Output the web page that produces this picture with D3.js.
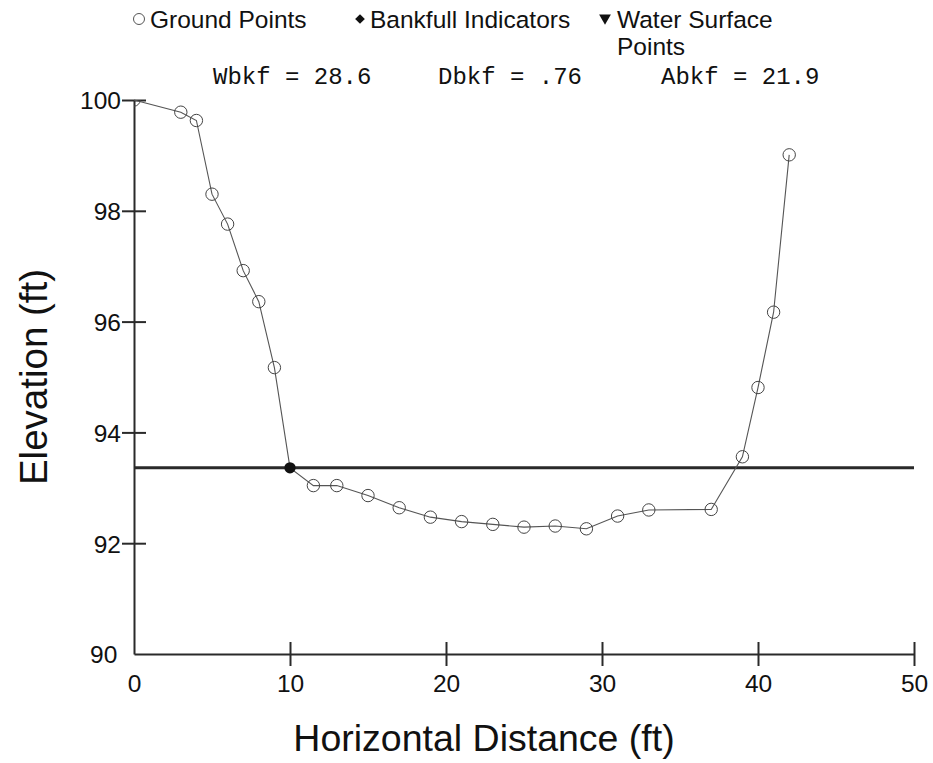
<!DOCTYPE html>
<html>
<head>
<meta charset="utf-8">
<script src="https://cdn.jsdelivr.net/npm/d3@7/dist/d3.min.js"></script>
<style>
  html, body { margin: 0; padding: 0; background: #fff; }
  svg { display: block; }
  text { font-family: "Liberation Sans", Arial, sans-serif; fill: #111; }
  .mono { font-family: "Liberation Mono", "Courier New", monospace; }
</style>
</head>
<body>
<svg id="chart" width="933" height="763"></svg>
<script>
// Cross-section survey: horizontal station (ft) and ground elevation (ft)
const stations   = [0, 3, 4, 5, 6, 7, 8, 9, 10, 11.5, 13, 15, 17, 19, 21, 23, 25, 27, 29, 31, 33, 37, 39, 40, 41, 42];
const elevations = [100, 99.78, 99.63, 98.30, 97.76, 96.92, 96.36, 95.17, 93.36, 93.04, 93.04, 92.86, 92.64, 92.47, 92.39, 92.34, 92.29, 92.31, 92.26, 92.49, 92.60, 92.61, 93.56, 94.81, 96.17, 99.01];

// Bankfull indicator and stage
const bankfullStation = [10];
const bankfullElevation = 93.36;

// Summary statistics
const statLabels = ["Wbkf = 28.6", "Dbkf = .76", "Abkf = 21.9"];

// Axis ticks
const xTicks = [0, 10, 20, 30, 40, 50];
const yTicks = [90, 92, 94, 96, 98, 100];

const svg = d3.select("#chart");
const margin = { left: 134, right: 19, top: 100, bottom: 109 };
const W = 933, H = 763;

const x = d3.scaleLinear().domain([0, 50]).range([margin.left, W - margin.right]);
const y = d3.scaleLinear().domain([90, 100]).range([H - margin.bottom, margin.top]);

const axisColor = "#2a2a2a";
const labelSize = 24.5;

// Plot-area clip for the markers
svg.append("defs").append("clipPath").attr("id", "plot-clip")
  .append("rect")
  .attr("x", x(0)).attr("y", y(100))
  .attr("width", x(50) - x(0)).attr("height", y(90) - y(100));

// X axis with ticks crossing the line
const xAxis = svg.append("g")
  .attr("transform", `translate(0,${y(90)})`)
  .call(d3.axisBottom(x).tickValues(xTicks).tickSize(0).tickPadding(21).tickFormat(d3.format("d")));
xAxis.select(".domain").attr("stroke", axisColor).attr("stroke-width", 2);
xAxis.selectAll(".tick text").attr("font-size", labelSize).attr("fill", "#111")
  .style("font-family", '"Liberation Sans", Arial, sans-serif');
xAxis.selectAll(".tick").filter(d => d !== 0).append("line")
  .attr("y1", -12).attr("y2", 12).attr("stroke", axisColor).attr("stroke-width", 2);

// Y axis with ticks crossing the line
const yAxis = svg.append("g")
  .attr("transform", `translate(${x(0)},0)`)
  .call(d3.axisLeft(y).tickValues(yTicks).tickSize(0).tickPadding(13).tickFormat(d3.format("d")));
yAxis.select(".domain").attr("stroke", axisColor).attr("stroke-width", 2);
yAxis.selectAll(".tick text").attr("font-size", labelSize).attr("fill", "#111")
  .attr("dy", "0.36em")
  .style("font-family", '"Liberation Sans", Arial, sans-serif');
yAxis.selectAll(".tick").filter(d => d !== 90).append("line")
  .attr("x1", -12).attr("x2", 12).attr("stroke", axisColor).attr("stroke-width", 2);
yAxis.selectAll(".tick").filter(d => d === 90).select("text").attr("dx", "-0.15em");

// Axis titles
svg.append("text")
  .attr("x", (x(0) + x(50)) / 2 - 40).attr("y", 751)
  .attr("text-anchor", "middle").attr("font-size", 37.5)
  .text("Horizontal Distance (ft)");
svg.append("text")
  .attr("transform", `translate(47,${(y(90) + y(100)) / 2}) rotate(-90)`)
  .attr("text-anchor", "middle").attr("font-size", 38.5)
  .text("Elevation (ft)");

// Bankfull stage line
svg.append("line")
  .attr("x1", x(0)).attr("x2", x(50))
  .attr("y1", y(bankfullElevation)).attr("y2", y(bankfullElevation))
  .attr("stroke", "#2a2a2a").attr("stroke-width", 3);

// Ground profile
const pts = stations.map((s, i) => [s, elevations[i]]);
svg.append("path")
  .datum(pts)
  .attr("fill", "none").attr("stroke", "#555").attr("stroke-width", 1.1)
  .attr("d", d3.line().x(d => x(d[0])).y(d => y(d[1])));

svg.append("g").attr("clip-path", "url(#plot-clip)")
  .selectAll("circle")
  .data(pts.filter(d => !bankfullStation.includes(d[0])))
  .join("circle")
  .attr("cx", d => x(d[0])).attr("cy", d => y(d[1])).attr("r", 6.2)
  .attr("fill", "none").attr("stroke", "#444").attr("stroke-width", 1);

// Bankfull indicator
svg.append("g").selectAll("path")
  .data(bankfullStation)
  .join("path")
  .attr("transform", d => `translate(${x(d)},${y(bankfullElevation)})`)
  .attr("d", d3.symbol().type(d3.symbolCircle).size(100))
  .attr("fill", "#111");

// Legend
const legend = svg.append("g");
legend.append("circle").attr("cx", 139).attr("cy", 19).attr("r", 5.5)
  .attr("fill", "none").attr("stroke", "#555").attr("stroke-width", 1);
legend.append("text").attr("x", 150).attr("y", 28).attr("font-size", labelSize).text("Ground Points");
legend.append("path").attr("transform", "translate(360,19)")
  .attr("d", d3.symbol().type(d3.symbolDiamond2).size(60)).attr("fill", "#111");
legend.append("text").attr("x", 370).attr("y", 28).attr("font-size", labelSize).text("Bankfull Indicators");
legend.append("path").attr("transform", "translate(605,18) rotate(180)")
  .attr("d", d3.symbol().type(d3.symbolTriangle).size(60)).attr("fill", "#111");
legend.append("text").attr("x", 617).attr("y", 28).attr("font-size", labelSize).text("Water Surface");
legend.append("text").attr("x", 617).attr("y", 55).attr("font-size", labelSize).text("Points");

// Statistics line
const statX = [213, 438, 661];
svg.append("g").selectAll("text")
  .data(statLabels)
  .join("text")
  .attr("class", "mono")
  .attr("x", (d, i) => statX[i]).attr("y", 84)
  .attr("font-size", 24)
  .attr("fill", "#222")
  .text(d => d);
</script>
</body>
</html>
